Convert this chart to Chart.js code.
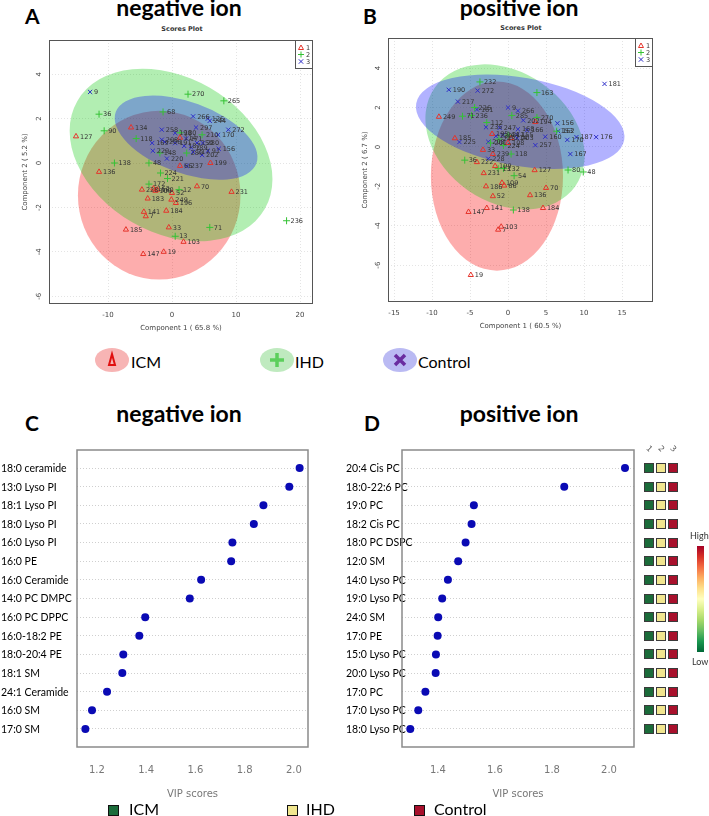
<!DOCTYPE html>
<html>
<head>
<meta charset="utf-8">
<script src="https://cdn.jsdelivr.net/npm/chart.js@4.4.1/dist/chart.umd.min.js"></script>
<style>
  body { margin: 0; background: #fff; }
  #page { position: relative; width: 709px; height: 816px; overflow: hidden; font-family: Lato, "Noto Sans", sans-serif; }
  #page canvas { position: absolute; }
  .t { position: absolute; white-space: nowrap; line-height: 1; }
  .panel { font-weight: bold; font-size: 21px; }
  .head { font-weight: bold; font-size: 23px; transform: translateX(-50%); }
  .sub { font-family: "DejaVu Sans", sans-serif; font-weight: bold; font-size: 6.5px; color: #333; transform: translateX(-50%); }
  .key { font-size: 16px; color: #000; }
  .sq { position: absolute; width: 9px; height: 9px; border: 1.5px solid #111; }
  svg { position: absolute; }
</style>
</head>
<body>
<div id="page">
  <div class="t panel" style="left:25px;top:5px">A</div>
  <div class="t head" style="left:179px;top:-4px">negative ion</div>
  <div class="t sub" style="left:182px;top:26px">Scores Plot</div>
  <div class="t panel" style="left:363px;top:5px">B</div>
  <div class="t head" style="left:519px;top:-4px">positive ion</div>
  <div class="t sub" style="left:521px;top:25px">Scores Plot</div>

  <canvas id="cA" width="340" height="320" style="left:0;top:20px"></canvas>
  <canvas id="cB" width="359" height="320" style="left:350px;top:18px"></canvas>

  <!-- group key under the score plots -->
  <svg width="36" height="26" style="left:94px;top:347px">
    <ellipse cx="18" cy="13" rx="17" ry="12" fill="#f7b4b4"/>
    <path d="M18 7 L21 18 L15 18 Z" fill="none" stroke="#e01010" stroke-width="2"/>
  </svg>
  <div class="t key" style="left:131px;top:354px">ICM</div>
  <svg width="36" height="26" style="left:259px;top:347px">
    <ellipse cx="18" cy="13" rx="17" ry="12" fill="#bfeabf"/>
    <path d="M18 6 V20 M11 13 H25" stroke="#5ccf5c" stroke-width="3.5"/>
  </svg>
  <div class="t key" style="left:295px;top:354px">IHD</div>
  <svg width="36" height="26" style="left:382px;top:347px">
    <ellipse cx="18" cy="13" rx="17" ry="12" fill="#babaf3"/>
    <path d="M13 8 L23 18 M23 8 L13 18" stroke="#6a2ca0" stroke-width="3.5"/>
  </svg>
  <div class="t key" style="left:418px;top:354px">Control</div>

  <div class="t panel" style="left:25px;top:412px">C</div>
  <div class="t head" style="left:179px;top:402px">negative ion</div>
  <div class="t panel" style="left:364px;top:412px">D</div>
  <div class="t head" style="left:519px;top:402px">positive ion</div>

  <canvas id="cC" width="340" height="376" style="left:0;top:440px"></canvas>
  <canvas id="cD" width="364" height="376" style="left:345px;top:440px"></canvas>

  <div class="sq" style="left:108px;top:805px;background:#1b6b3a"></div>
  <div class="t key" style="left:129px;top:801px">ICM</div>
  <div class="sq" style="left:287px;top:805px;background:#f1e68f"></div>
  <div class="t key" style="left:306px;top:801px">IHD</div>
  <div class="sq" style="left:414px;top:805px;background:#a8102c"></div>
  <div class="t key" style="left:434px;top:801px">Control</div>
</div>

<script>
'use strict';

/* ── Scores plots: [component 1, component 2, sample id] ───── */
const negICM = [
  [-15, 1.2, '127'], [-6.4, 1.6, '134'], [-11.4, -0.4, '136'], [1.25, -0.13, '66'],
  [6.0, 0, '199'], [1.25, 1.14, '114'], [-4.7, -1.2, '228'], [-2.9, -1.15, '162'],
  [-2.6, -1.25, '109'], [-2.3, -1.2, '160'], [0, -1.35, '52'], [3.9, -1.05, '70'],
  [9.3, -1.3, '231'], [-3.8, -1.6, '183'], [-0.1, -1.65, '249'], [0.6, -1.8, '196'],
  [-4.4, -2.2, '141'], [-0.9, -2.15, '184'], [-4.1, -2.4, '7'], [-7.2, -3.0, '185'],
  [-0.5, -2.9, '33'], [1.8, -3.55, '103'], [-4.5, -4.1, '147'], [-1.3, -4.0, '19']
];
const negIHD = [
  [2.5, 3.1, '270'], [8.1, 2.8, '265'], [-11.4, 2.2, '36'], [-1.4, 2.3, '68'],
  [-10.6, 1.45, '90'], [4.7, 1.27, '210'], [-5.6, 1.1, '118'], [1.25, 1.36, '180'],
  [-1.9, 0.45, '148'], [2.3, 0.45, '289'], [-9, 0, '138'], [-3.6, 0, '48'],
  [-1.8, -0.45, '224'], [-0.7, -0.7, '221'], [-3.6, -0.95, '172'], [1.1, -1.2, '12'],
  [5.9, -2.9, '71'], [17.9, -2.6, '236'], [0.5, -3.3, '13']
];
const negCTL = [
  [-12.8, 3.2, '9'], [3.3, 2.1, '266'], [5.6, 2.0, '126'], [5.9, 1.9, '244'],
  [3.75, 1.6, '297'], [-1.6, 1.5, '258'], [8.8, 1.5, '272'], [7.2, 1.27, '170'],
  [-3.1, 0.9, '169'], [-1.6, 1.05, '208'], [-1.1, 0.95, '206'], [0.5, 1.35, '190'],
  [0.5, 0.9, '191'], [2.2, 1.1, '171'], [1.9, 0.77, '187'], [3.0, 0.7, '189'],
  [3.9, 0.9, '150'], [4.8, 0.9, '280'], [3.3, 0.5, '217'], [4.7, 0.36, '202'],
  [-3.0, 0.55, '229'], [-0.8, 0.2, '220'], [7.3, 0.64, '156'], [5.6, 0.55, '91'],
  [2.3, -0.13, '237']
];
const posICM = [
  [-9.1, 1.53, '249'], [3.6, 1.27, '194'], [-7.0, 0.44, '185'], [-2.1, 0.66, '195'],
  [0.4, 0.45, '214'], [0, 0.2, '108'], [-3.3, -0.15, '33'], [-2.0, -0.36, '239'],
  [-4.1, -0.77, '222'], [-1.7, -0.97, '199'], [3.5, -1.18, '127'], [-3.2, -1.33, '231'],
  [-2.9, -2.0, '186'], [-0.8, -1.82, '109'], [-0.5, -1.96, '66'], [5.0, -2.08, '70'],
  [-2.0, -2.5, '52'], [2.9, -2.45, '136'], [-2.8, -3.1, '141'], [-5.2, -3.3, '147'],
  [4.6, -3.1, '184'], [-0.9, -4.05, '103'], [-1.3, -4.2, '7'], [-4.9, -6.5, '19']
];
const posIHD = [
  [-3.7, 3.3, '232'], [3.8, 2.76, '163'], [-4.4, 2.0, '226'], [-6.0, 1.56, '71'],
  [-4.8, 1.6, '236'], [0.5, 1.6, '285'], [3.8, 1.5, '270'], [-2.8, 1.24, '112'],
  [6.4, 0.8, '153'], [0, 0.6, '211'], [-1.2, 0.4, '248'], [-0.6, 0.08, '224'],
  [-2.3, 0.2, '201'], [0.4, -0.36, '118'], [-5.7, -0.67, '36'], [-0.6, -1.09, '132'],
  [-1.3, -1.1, '13'], [7.9, -1.17, '80'], [9.9, -1.27, '48'], [0.8, -1.46, '54'],
  [0.7, -3.2, '138']
];
const posCTL = [
  [-7.8, 2.9, '190'], [-4.0, 2.86, '272'], [12.7, 3.2, '181'], [-6.6, 2.3, '217'],
  [-4.1, 1.9, '161'], [0, 2.0, '9'], [1.3, 1.84, '266'], [2.0, 1.35, '202'],
  [6.5, 1.2, '156'], [-2.9, 1.0, '235'], [-1.1, 0.97, '247'], [1.3, 0.9, '168'],
  [2.5, 0.85, '166'], [1.2, 0.62, '155'], [6.6, 0.8, '162'], [4.9, 0.52, '160'],
  [9.0, 0.5, '187'], [7.8, 0.36, '170'], [11.6, 0.5, '176'], [-6.4, 0.25, '225'],
  [3.6, 0.09, '257'], [-0.7, 0.6, '244'], [-2.6, 0.26, '208'], [1.2, 0.45, '203'],
  [-1.6, 0.55, '229'], [8.2, -0.36, '167'], [-2.6, -0.6, '228']
];
// 95% regions per group: [centre x, centre y, radius x, radius y, tilt deg]
const negEllipses = [[-2.0, -1.45, 12.7, 3.8, 0], [-0.15, 0.36, 16.9, 3.5, 30], [2.2, 1.14, 11.7, 1.6, 20]];
const posEllipses = [[-1.46, -1.48, 8.7, 4.8, 0], [-0.4, 0.51, 11.3, 3.3, 35], [1.6, 1.28, 13.9, 2.24, 10]];
const negXTicks = [-10, 0, 10, 20];
const posXTicks = [-15, -10, -5, 0, 5, 10, 15];
const scoreYTicks = [-6, -4, -2, 0, 2, 4];

/* ── VIP scores ─────────────────────────────────────────────── */
const negLipids = ['18:0 ceramide', '13:0 Lyso PI', '18:1 Lyso PI', '18:0 Lyso PI', '16:0 Lyso PI',
  '16:0 PE', '16:0 Ceramide', '14:0 PC DMPC', '16:0 PC DPPC', '16:0-18:2 PE', '18:0-20:4 PE',
  '18:1 SM', '24:1 Ceramide', '16:0 SM', '17:0 SM'];
const negVIP = [2.023, 1.981, 1.876, 1.837, 1.750, 1.745, 1.623, 1.577, 1.396, 1.372, 1.307,
  1.303, 1.241, 1.180, 1.153];
const posLipids = ['20:4 Cis PC', '18:0-22:6 PC', '19:0 PC', '18:2 Cis PC', '18:0 PC DSPC',
  '12:0 SM', '14:0 Lyso PC', '19:0 Lyso PC', '24:0 SM', '17:0 PE', '15:0 Lyso PC',
  '20:0 Lyso PC', '17:0 PC', '17:0 Lyso PC', '18:0 Lyso PC'];
const posVIP = [2.056, 1.843, 1.526, 1.518, 1.497, 1.471, 1.435, 1.415, 1.401, 1.399, 1.393,
  1.392, 1.356, 1.331, 1.303];
const negVipTicks = [1.2, 1.4, 1.6, 1.8, 2.0];
const posVipTicks = [1.4, 1.6, 1.8, 2.0];
// relative level per group (ICM, IHD, Control): 0 low, 1 mid, 2 high
const posHeat = [
  [0, 1, 2], [0, 1, 2], [0, 1, 2], [0, 1, 2], [0, 1, 2], [0, 1, 2], [0, 1, 2], [0, 1, 2],
  [0, 1, 2], [0, 1, 2], [0, 1, 2], [0, 1, 2], [0, 1, 2], [0, 1, 2], [0, 1, 2]
];
const heatColors = ['#1b6b3a', '#f1e68f', '#a8102c'];

/* ── Scores plot decorations ───────────────────────────────── */
const groupStyle = [
  { name: '1', pointStyle: 'triangle', color: '#e5332a', r: 3 },
  { name: '2', pointStyle: 'cross', color: '#35c235', r: 3.5 },
  { name: '3', pointStyle: 'crossRot', color: '#2d2dc8', r: 3 }
];
const ellipseFills = ['rgba(250,0,0,0.32)', 'rgba(0,200,0,0.30)', 'rgba(0,0,255,0.30)'];

function drawKeySymbol(ctx, style, cx, cy) {
  ctx.strokeStyle = style.color;
  ctx.lineWidth = 1;
  ctx.beginPath();
  if (style.pointStyle === 'triangle') {
    ctx.moveTo(cx, cy - 2.5); ctx.lineTo(cx + 2.5, cy + 2); ctx.lineTo(cx - 2.5, cy + 2); ctx.closePath();
  } else if (style.pointStyle === 'cross') {
    ctx.moveTo(cx - 3, cy); ctx.lineTo(cx + 3, cy); ctx.moveTo(cx, cy - 3); ctx.lineTo(cx, cy + 3);
  } else {
    ctx.moveTo(cx - 2.2, cy - 2.2); ctx.lineTo(cx + 2.2, cy + 2.2); ctx.moveTo(cx + 2.2, cy - 2.2); ctx.lineTo(cx - 2.2, cy + 2.2);
  }
  ctx.stroke();
}

const scoresDecor = {
  id: 'scoresDecor',
  beforeDatasetsDraw(chart, args, opts) {
    const { ctx, chartArea: a, scales: { x, y } } = chart;
    ctx.save();
    ctx.beginPath();
    ctx.rect(a.left, a.top, a.width, a.height);
    ctx.clip();
    opts.ellipses.forEach((e, i) => {
      const cx = x.getPixelForValue(e[0]);
      const cy = y.getPixelForValue(e[1]);
      const rx = x.getPixelForValue(e[0] + e[2]) - cx;
      const ry = cy - y.getPixelForValue(e[1] + e[3]);
      ctx.beginPath();
      ctx.ellipse(cx, cy, rx, ry, e[4] * Math.PI / 180, 0, Math.PI * 2);
      ctx.fillStyle = ellipseFills[i];
      ctx.fill();
    });
    ctx.restore();
  },
  afterDatasetsDraw(chart) {
    const { ctx, chartArea: a } = chart;
    ctx.save();
    // sample ids next to each point
    ctx.font = '6.5px "DejaVu Sans"';
    ctx.fillStyle = '#333';
    ctx.textBaseline = 'middle';
    chart.data.datasets.forEach((ds, di) => {
      chart.getDatasetMeta(di).data.forEach((el, i) => ctx.fillText(ds.data[i].id, el.x + 4, el.y + 0.5));
    });
    // frame
    ctx.strokeStyle = '#555';
    ctx.lineWidth = 1;
    ctx.strokeRect(a.left + 0.5, a.top + 0.5, a.width - 1, a.height - 1);
    // group key, top right
    const kx = a.right - 18, ky = a.top;
    ctx.fillStyle = '#fff';
    ctx.fillRect(kx, ky, 18, 29);
    ctx.strokeStyle = '#555';
    ctx.strokeRect(kx + 0.5, ky + 0.5, 17, 28);
    groupStyle.forEach((g, i) => {
      const cy = ky + 7.5 + i * 7;
      drawKeySymbol(ctx, g, kx + 6, cy);
      ctx.fillStyle = '#333';
      ctx.fillText(g.name, kx + 11, cy + 0.5);
    });
    ctx.restore();
  }
};

function scoresChart(id, groups, ellipses, xr, yr, xTicks, xTitle, yTitle, yAxisW, yTitlePad, rightPad) {
  const tickFont = { family: 'DejaVu Sans', size: 7 };
  return new Chart(document.getElementById(id), {
    type: 'scatter',
    data: {
      datasets: groups.map((pts, gi) => ({
        data: pts.map(p => ({ x: p[0], y: p[1], id: p[2] })),
        pointStyle: groupStyle[gi].pointStyle,
        pointRadius: groupStyle[gi].r,
        borderColor: groupStyle[gi].color,
        backgroundColor: 'rgba(0,0,0,0)',
        borderWidth: 1
      }))
    },
    options: {
      responsive: false,
      animation: false,
      layout: { padding: { left: 0, top: 20, right: rightPad, bottom: 0 } },
      plugins: { legend: { display: false }, tooltip: { enabled: false }, scoresDecor: { ellipses } },
      scales: {
        x: {
          min: xr[0], max: xr[1],
          afterBuildTicks: s => { s.ticks = xTicks.map(v => ({ value: v })); },
          afterFit: s => { s.height = 36; },
          grid: { color: '#e4e4e4', drawTicks: false },
          border: { display: false, dash: [1, 2] },
          ticks: { font: tickFont, color: '#444', padding: 7, maxRotation: 0 },
          title: { display: true, text: xTitle, font: tickFont, color: '#444', padding: { bottom: 8 } }
        },
        y: {
          min: yr[0], max: yr[1],
          afterBuildTicks: s => { s.ticks = scoreYTicks.map(v => ({ value: v })); },
          afterFit: s => { s.width = yAxisW; },
          grid: { color: '#e4e4e4', drawTicks: false },
          border: { display: false, dash: [1, 2] },
          ticks: { font: tickFont, color: '#444', padding: 6, minRotation: 90, maxRotation: 90, crossAlign: 'center' },
          title: { display: true, text: yTitle, font: tickFont, color: '#444', padding: { top: yTitlePad } }
        }
      }
    },
    plugins: [scoresDecor]
  });
}

scoresChart('cA', [negICM, negIHD, negCTL], negEllipses, [-19.22, 22.03], [-6.35, 5.54],
  negXTicks, 'Component 1 ( 65.8 %)', 'Component 2 ( 5.2 %)', 49, 21, 27);
scoresChart('cB', [posICM, posIHD, posCTL], posEllipses, [-15.8, 19.08], [-7.87, 5.53],
  posXTicks, 'Component 1 ( 60.5 %)', 'Component 2 ( 6.7 %)', 38, 11, 56);

/* ── VIP plot decorations ──────────────────────────────────── */
const vipDecor = {
  id: 'vipDecor',
  afterDraw(chart, args, opts) {
    const { ctx, chartArea: a, scales: { y } } = chart;
    ctx.save();
    // lipid names: left aligned, allowed to run into the plot like the original
    ctx.font = '10.5px Lato';
    ctx.fillStyle = '#000';
    ctx.textBaseline = 'middle';
    ctx.textAlign = 'left';
    opts.lipids.forEach((n, i) => ctx.fillText(n, 1, y.getPixelForValue(i) + 0.5));
    ctx.strokeStyle = '#8a8a8a';
    ctx.lineWidth = 1.5;
    ctx.strokeRect(a.left, a.top, a.width, a.height);
    if (opts.heat) {
      opts.heat.forEach((row, i) => {
        const py = Math.round(y.getPixelForValue(i));
        row.forEach((lvl, j) => {
          const px = a.right + 10 + j * 12;
          ctx.fillStyle = heatColors[lvl];
          ctx.fillRect(px, py - 5, 10, 10);
          ctx.strokeStyle = '#3a3a3a';
          ctx.lineWidth = 1;
          ctx.strokeRect(px + 0.5, py - 4.5, 9, 9);
        });
      });
      // column headers
      ctx.font = '8px "DejaVu Sans"';
      ctx.fillStyle = '#555';
      ctx.textAlign = 'center';
      ['1', '2', '3'].forEach((t, j) => {
        ctx.save();
        ctx.translate(a.right + 15 + j * 12, 9);
        ctx.rotate(Math.PI / 4);
        ctx.fillText(t, 0, 0);
        ctx.restore();
      });
      // colour key
      const gx = a.right + 63, gy = 106, gh = 106;
      const grad = ctx.createLinearGradient(0, gy, 0, gy + gh);
      ['#a50026', '#d73027', '#f46d43', '#fdae61', '#fee08b', '#ffffbf', '#d9ef8b', '#a6d96a', '#66bd63', '#1a9850', '#006837']
        .forEach((c, k, arr) => grad.addColorStop(k / (arr.length - 1), c));
      ctx.fillStyle = grad;
      ctx.fillRect(gx, gy, 7, gh);
      ctx.font = '9px Lato';
      ctx.fillStyle = '#333';
      ctx.textAlign = 'left';
      ctx.fillText('High', gx - 7, gy - 10);
      ctx.fillText('Low', gx - 5, gy + gh + 10);
    }
    ctx.restore();
  }
};

function vipChart(id, lipids, vip, xr, xTicks, yAxisW, rightPad, heat) {
  const tickFont = { family: 'DejaVu Sans', size: 10 };
  return new Chart(document.getElementById(id), {
    type: 'scatter',
    data: {
      datasets: [{
        data: vip.map((v, i) => ({ x: v, y: i })),
        pointRadius: 4,
        pointBackgroundColor: '#0a0ab4',
        pointBorderWidth: 0
      }]
    },
    options: {
      responsive: false,
      animation: false,
      layout: { padding: { left: 0, top: 10, right: rightPad, bottom: 0 } },
      plugins: { legend: { display: false }, tooltip: { enabled: false }, vipDecor: { heat, lipids } },
      scales: {
        x: {
          min: xr[0], max: xr[1],
          afterBuildTicks: s => { s.ticks = xTicks.map(v => ({ value: v })); },
          afterFit: s => { s.height = 69; },
          grid: { display: false },
          border: { display: false },
          ticks: { font: tickFont, color: '#777', padding: 9, maxRotation: 0, callback: v => v.toFixed(1) },
          title: { display: true, text: 'VIP scores', font: tickFont, color: '#777', padding: { bottom: 16 } }
        },
        y: {
          reverse: true,
          min: -0.966, max: 14.966,
          afterBuildTicks: s => { s.ticks = lipids.map((n, i) => ({ value: i })); },
          afterFit: s => { s.width = yAxisW; },
          grid: { color: '#cfcfcf', drawTicks: false },
          border: { display: false, dash: [1, 2] },
          ticks: { display: false }
        }
      }
    },
    plugins: [vipDecor]
  });
}

vipChart('cC', negLipids, negVIP, [1.119, 2.057], negVipTicks, 77, 32, null);
vipChart('cD', posLipids, posVIP, [1.274, 2.0876], posVipTicks, 57, 75, posHeat);
</script>
</body>
</html>
